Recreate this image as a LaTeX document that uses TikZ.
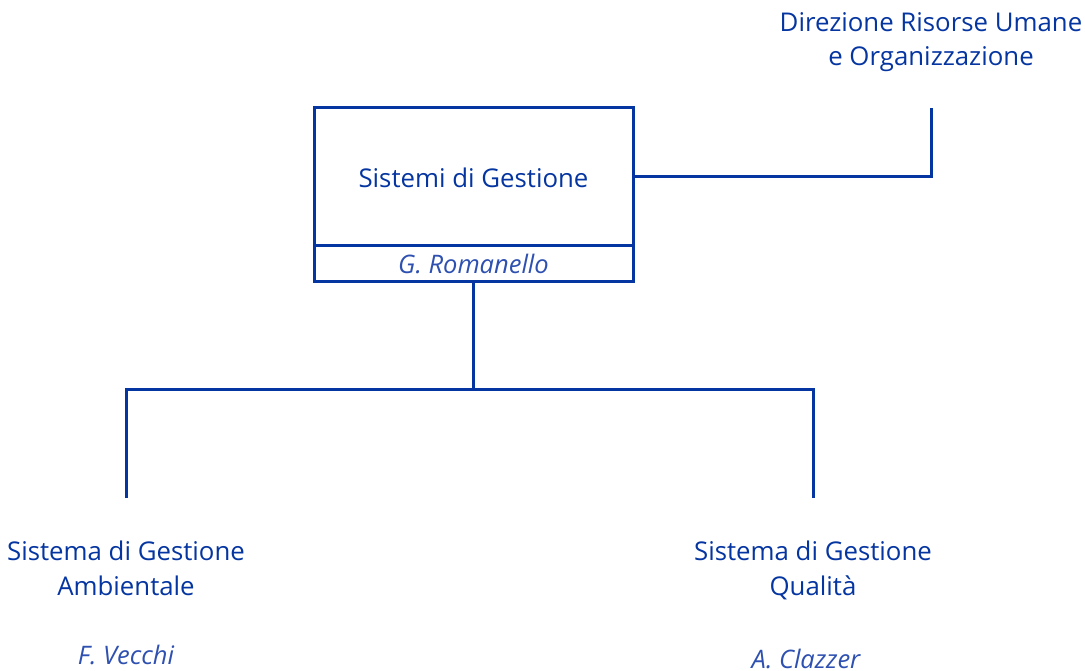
\documentclass[tikz,border=0pt]{standalone}
\usepackage{fontspec}
\setmainfont{Open Sans}
\definecolor{main}{HTML}{0535A0}
\definecolor{namec}{HTML}{2E50B0}
\begin{document}
\begin{tikzpicture}[x=1pt,y=-1pt,
  ln/.style={draw=main,line width=3pt},
  bx/.style={ln,minimum width=319pt,inner sep=0pt,outer sep=0pt},
  ttl/.style={text=main,font=\fontsize{25.8}{35}\selectfont,inner sep=0pt,anchor=base},
  nm/.style={text=namec,font=\fontsize{25.5}{28}\selectfont\itshape,inner sep=0pt,anchor=base}]
\useasboundingbox (0,0) rectangle (1085,671);
% main box
\node[bx,minimum height=138pt] (box) at (473.5,177) {};
\node[bx,minimum height=36pt,anchor=north] (sub) at (box.south) {};
\node[ttl] (boxt) at (473.5,188) {Sistemi di Gestione};
\node[nm] (boxn) at (473.5,274) {G. Romanello};
% top right
\node[ttl] (dir1) at (931,32) {Direzione Risorse Umane};
\node[ttl] (dir2) at (931,66) {e Organizzazione};
\coordinate (dirc) at (931,108);
\draw[ln] (box.east) -- (box.east -| dirc) -- (dirc);
% children
\node[ttl] (amb1) at (126,560) {Sistema di Gestione};
\node[ttl] (amb2) at (126,595) {Ambientale};
\node[nm] (ambn) at (126,664) {F. Vecchi};
\node[ttl] (qua1) at (813,560) {Sistema di Gestione};
\node[ttl] (qua2) at (813,595) {Qualità};
\node[nm] (quan) at (806,668) {A. Clazzer};
\coordinate (junc) at (473.5,389);
\coordinate (ambt) at (126,498);
\coordinate (quat) at (813,498);
\draw[ln] (sub.south) -- (junc);
\draw[ln] (ambt) -- (ambt |- junc) -- (quat |- junc) -- (quat);
\end{tikzpicture}
\end{document}
